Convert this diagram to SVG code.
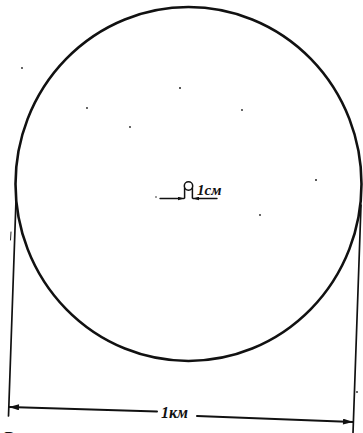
<svg xmlns="http://www.w3.org/2000/svg" width="363" height="433" viewBox="0 0 363 433">
<style>
.ln{fill:none;stroke:#111;stroke-linecap:round}
.lbl{font-family:"Liberation Serif",serif;font-style:italic;font-weight:bold;fill:#111}
.dot{fill:#222}
</style>
<defs>
<marker id="ah" viewBox="0 0 10 6" refX="10" refY="3" markerWidth="11" markerHeight="6" markerUnits="userSpaceOnUse" orient="auto">
<path d="M0,0 L10,3 L0,6 Z" fill="#111"/>
</marker>
<marker id="ahs" viewBox="0 0 10 6" refX="10" refY="3" markerWidth="6" markerHeight="4" markerUnits="userSpaceOnUse" orient="auto">
<path d="M0,0 L10,3 L0,6 Z" fill="#111"/>
</marker>
</defs>
<rect width="363" height="433" fill="#fff"/>
<g id="sphere">
<ellipse class="ln" cx="188.5" cy="184" rx="173" ry="177" stroke-width="2.6"/>
</g>
<g id="small-object">
<circle class="ln" cx="188.5" cy="186" r="4.2" stroke-width="1.5"/>
<path class="ln" d="M184.6,188 V198 M192.4,188 V198" stroke-width="1.5"/>
<text class="lbl" x="197" y="195" font-size="15">1см</text>
</g>
<g id="connectors">
<line class="ln" x1="160" y1="198.5" x2="184" y2="198.5" stroke-width="1.4" marker-end="url(#ahs)"/>
<line class="ln" x1="217" y1="198.5" x2="193" y2="198.5" stroke-width="1.4" marker-end="url(#ahs)"/>
<line class="ln" x1="16" y1="200" x2="8.5" y2="416" stroke-width="1.7"/>
<line class="ln" x1="361" y1="205" x2="353" y2="433" stroke-width="1.7"/>
<line class="ln" x1="157" y1="411.5" x2="9" y2="407" stroke-width="2" marker-end="url(#ah)"/>
<line class="ln" x1="197" y1="416" x2="353" y2="422" stroke-width="2" marker-end="url(#ah)"/>
</g>
<g id="dimension-label">
<text class="lbl" x="161" y="418" font-size="16">1км</text>
</g>
<g id="specks">
<circle class="dot" cx="22" cy="68" r="0.9"/>
<circle class="dot" cx="180" cy="88" r="1"/>
<circle class="dot" cx="87" cy="108" r="0.9"/>
<circle class="dot" cx="242" cy="110" r="0.9"/>
<circle class="dot" cx="130" cy="127" r="0.9"/>
<circle class="dot" cx="316" cy="180" r="1"/>
<circle class="dot" cx="260" cy="215" r="0.9"/>
<circle class="dot" cx="357" cy="392" r="0.9"/>
<circle class="dot" cx="156" cy="197" r="0.8"/>
<line class="ln" x1="11" y1="232" x2="10.5" y2="240" stroke-width="0.9"/>
</g>
<text class="lbl" x="3" y="443" font-size="17" font-style="normal" font-weight="normal">В</text>
</svg>
